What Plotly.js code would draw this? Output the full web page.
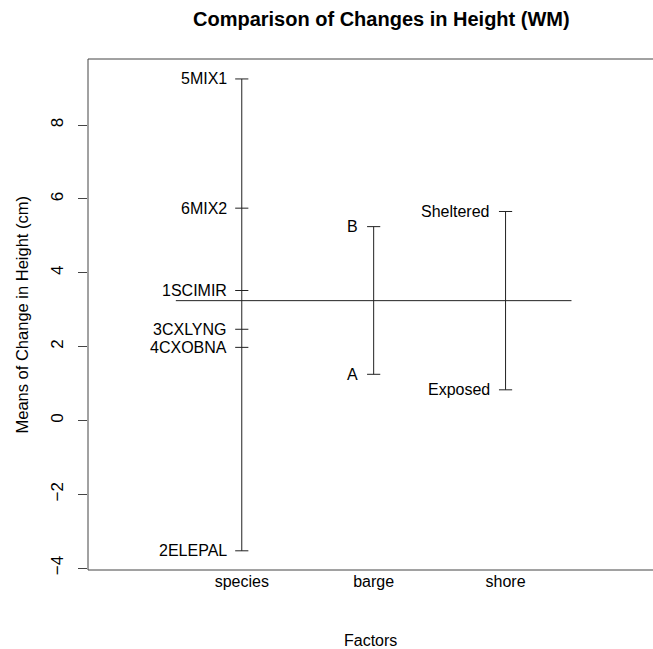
<!DOCTYPE html>
<html>
<head>
<meta charset="utf-8">
<script src="https://cdn.plot.ly/plotly-3.0.1.min.js"></script>
<style>html,body{margin:0;padding:0;background:#fff;}#chart{width:653px;height:649px;}</style>
</head>
<body>
<div id="chart"></div>
<script>
// Data
var factors = ['species', 'barge', 'shore'];
var speciesLevels = ['1SCIMIR', '2ELEPAL', '3CXLYNG', '4CXOBNA', '5MIX1', '6MIX2'];
var speciesMeans = [3.52, -3.53, 2.47, 1.98, 9.25, 5.75];
var bargeLevels = ['A', 'B'];
var bargeMeans = [1.25, 5.25];
var shoreLevels = ['Exposed', 'Sheltered'];
var shoreMeans = [0.83, 5.66];
var grandMean = 3.245;
var yTicks = [-4, -2, 0, 2, 4, 6, 8];

var groups = [
  {levels: speciesLevels, means: speciesMeans},
  {levels: bargeLevels, means: bargeMeans},
  {levels: shoreLevels, means: shoreMeans}
];

var FONT = 'Liberation Sans, Arial, Helvetica, sans-serif';
var LINE = '#222';
var traces = [];
var annotations = [];

groups.forEach(function (g, gi) {
  var xi = gi + 1;
  var lo = Math.min.apply(null, g.means), hi = Math.max.apply(null, g.means);
  traces.push({x: [xi, xi], y: [lo, hi], mode: 'lines', line: {color: LINE, width: 1}, hoverinfo: 'skip', showlegend: false});
  var tx = [], ty = [];
  g.means.forEach(function (m, li) {
    tx.push(xi - 0.05, xi + 0.05, null);
    ty.push(m, m, null);
    annotations.push({x: xi - 0.1, y: m, xref: 'x', yref: 'y', text: g.levels[li], showarrow: false,
      xanchor: 'right', yanchor: 'middle', font: {family: FONT, size: 16, color: '#000'}});
  });
  traces.push({x: tx, y: ty, mode: 'lines', line: {color: LINE, width: 1}, hoverinfo: 'skip', showlegend: false});
});

traces.push({x: [0.5, factors.length + 0.5], y: [grandMean, grandMean], mode: 'lines',
  line: {color: LINE, width: 1}, hoverinfo: 'skip', showlegend: false});

annotations.push({xref: 'paper', yref: 'paper', x: 0.52, y: 1, yshift: 40, text: '<b>Comparison of Changes in Height (WM)</b>',
  showarrow: false, xanchor: 'center', yanchor: 'middle', font: {family: FONT, size: 20, color: '#000'}});
annotations.push({xref: 'paper', yref: 'paper', x: 0.5, y: 0, yshift: -70, xshift: 0, text: 'Factors',
  showarrow: false, xanchor: 'center', yanchor: 'middle', font: {family: FONT, size: 16, color: '#000'}});
annotations.push({xref: 'paper', yref: 'paper', x: 0, xshift: -67, y: 0.5, text: 'Means of Change in Height (cm)',
  textangle: -90, showarrow: false, xanchor: 'center', yanchor: 'middle', font: {family: FONT, size: 16.5, color: '#000'}});

var layout = {
  width: 653, height: 649,
  margin: {l: 88, r: 0, t: 59, b: 79, pad: 0},
  paper_bgcolor: '#fff', plot_bgcolor: '#fff',
  showlegend: false,
  xaxis: {range: [-0.166, 4.118], tickvals: [1, 2, 3], ticktext: factors, ticks: '', showgrid: false,
    zeroline: false, showline: false, tickfont: {family: FONT, size: 16, color: '#000'}, fixedrange: true},
  yaxis: {range: [-4.05, 9.79], tickvals: yTicks, ticks: 'outside', ticklen: 9, tickcolor: '#444', tickwidth: 1,
    tickangle: -90, ticklabelstandoff: 8, showgrid: false, zeroline: false, showline: false,
    tickfont: {family: FONT, size: 17, color: '#000'}, fixedrange: true},
  shapes: [
    {type: 'line', xref: 'paper', yref: 'paper', x0: 0, x1: 0, y0: 0, y1: 1, line: {color: '#444', width: 1}},
    {type: 'line', xref: 'paper', yref: 'paper', x0: 0, x1: 1.05, y0: 1, y1: 1, line: {color: '#444', width: 1}},
    {type: 'line', xref: 'paper', yref: 'paper', x0: 0, x1: 1.05, y0: 0, y1: 0, line: {color: '#444', width: 1}}
  ],
  annotations: annotations
};

Plotly.newPlot('chart', traces, layout, {staticPlot: true, displayModeBar: false});
</script>
</body>
</html>
